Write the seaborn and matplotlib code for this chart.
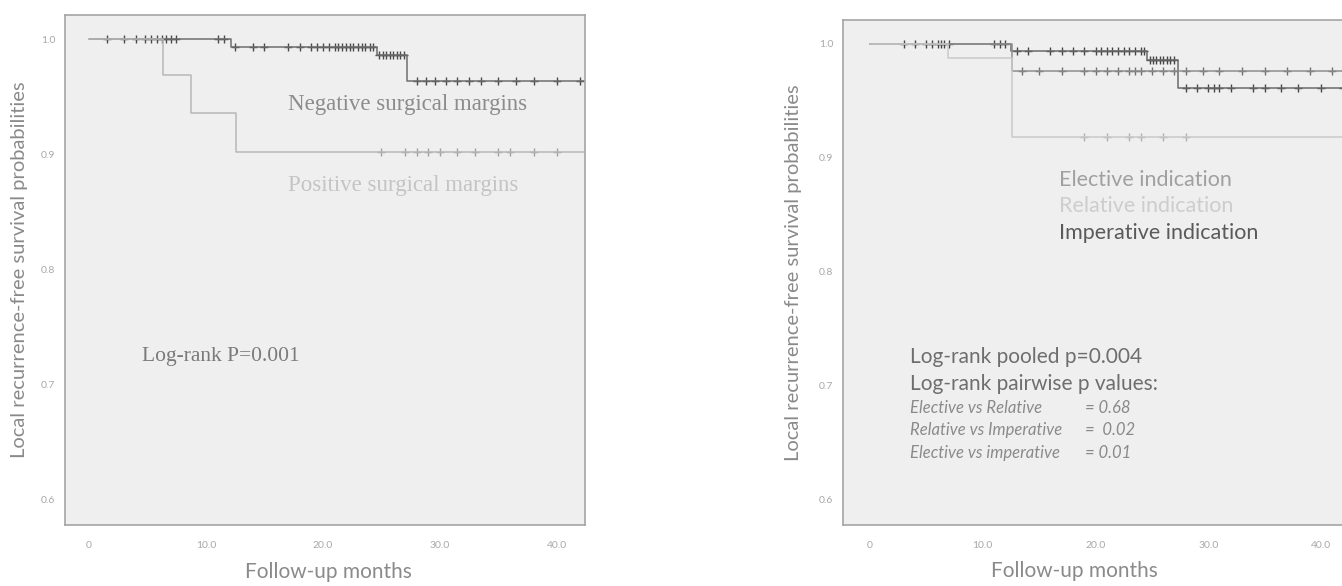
import numpy as np
import pandas as pd
import matplotlib
matplotlib.use('Agg')
import matplotlib.pyplot as plt
import seaborn as sns

# ---- data ----
# left panel: surgical margins
neg_times = [0, 12.1, 24.6, 27.2, 42.3]
neg_surv = [1.0, 0.993, 0.986, 0.964, 0.964]
neg_censor = [1.5, 3, 4, 4.8, 5.3, 5.8, 6.2, 6.6, 7, 7.4, 11, 11.5, 12.5, 14, 15, 17,
              18, 19, 19.5, 20, 20.5, 21, 21.3, 21.6, 22, 22.3, 22.6, 23, 23.3, 23.6,
              24, 24.3, 24.8, 25.1, 25.4, 25.7, 26, 26.3, 26.6, 26.9, 28, 28.8, 29.6,
              30.5, 31.5, 32.5, 33.5, 35, 36.5, 38, 40, 42]
pos_times = [0, 6.3, 8.7, 12.6, 42.3]
pos_surv = [1.0, 0.969, 0.936, 0.902, 0.902]
pos_censor = [25, 27, 28, 29, 30, 31.5, 33, 35, 36, 38, 40]

# right panel: indication
imp_times = [0, 12.5, 24.6, 27.3, 42.4]
imp_surv = [1.0, 0.994, 0.986, 0.961, 0.961]
imp_censor = [3, 4, 5, 5.5, 6, 6.3, 6.6, 7, 11, 11.5, 12, 13, 14, 16, 17, 18, 19, 20,
              20.5, 21, 21.5, 22, 22.5, 23, 23.5, 24, 24.3, 24.8, 25.1, 25.4, 25.7,
              26, 26.3, 26.6, 27, 28, 29, 30, 30.5, 31, 32, 34, 35, 36.5, 38, 40, 42]
ele_times = [0, 12.6, 42.4]
ele_surv = [1.0, 0.976, 0.976]
ele_censor = [13.5, 15, 17, 19, 20, 21, 22, 23, 23.5, 24, 25, 26, 27, 28, 29.5, 31,
              33, 35, 37, 39, 41]
rel_times = [0, 6.9, 12.6, 42.4]
rel_surv = [1.0, 0.988, 0.918, 0.918]
rel_censor = [19, 21, 23, 24, 26, 28]

y_ticks = [0.6, 0.7, 0.8, 0.9, 1.0]
y_ticklabels = ['0.6', '0.7', '0.8', '0.9', '1.0']
x_ticks = [0, 10, 20, 30, 40]
x_ticklabels = ['0', '10.0', '20.0', '30.0', '40.0']

pairwise_names = ['Elective vs Relative', 'Relative vs Imperative', 'Elective vs imperative']
pairwise_p = ['= 0.68', '=  0.02', '= 0.01']

sns.set_theme(style='white')
plt.rcParams['font.family'] = ['Lato', 'DejaVu Sans']

W, H = 1342, 586
fig = plt.figure(figsize=(W / 100, H / 100), dpi=100)
fig.patch.set_facecolor('white')


def px_axes(x0, x1, y0, y1):
    return fig.add_axes([x0 / W, 1 - y1 / H, (x1 - x0) / W, (y1 - y0) / H])


def curve(ax, times, surv, censor, line_col, mark_col, name):
    df = pd.DataFrame({'months': times, 'surv': surv, 'group': name})
    sns.lineplot(data=df, x='months', y='surv', color=line_col, drawstyle='steps-post',
                 estimator=None, sort=False, legend=False, ax=ax, linewidth=1.1)
    t = np.asarray(times)
    s = np.asarray(surv)
    c = np.asarray(censor)
    cs = s[np.searchsorted(t, c, side='right') - 1]
    sns.scatterplot(x=c, y=cs, marker='+', s=28, color=mark_col, linewidth=1.0,
                    legend=False, ax=ax)


def style_axes(ax, xlim):
    ax.set_facecolor('#efefef')
    ax.set_xlim(*xlim)
    ax.set_ylim(0.578, 1.021)
    ax.set_xticks(x_ticks)
    ax.set_xticklabels(x_ticklabels)
    ax.set_yticks(y_ticks)
    ax.set_yticklabels(y_ticklabels)
    ax.tick_params(axis='both', colors='#a0a0a0', labelcolor='#a8a8a8', labelsize=7.5)
    ax.tick_params(axis='x', direction='inout', length=7, width=1, pad=8)
    ax.tick_params(axis='y', direction='out', length=4, width=1, pad=3)
    for sp in ax.spines.values():
        sp.set_color('#a4a4a4')
        sp.set_linewidth(1.2)
    ax.set_xlabel('Follow-up months', fontsize=15, color='#8a8a8a')
    ax.set_ylabel('Local recurrence-free survival probabilities', fontsize=14.5,
                  color='#8a8a8a')


# ---- left panel ----
ax1 = px_axes(65, 585, 15, 525)
curve(ax1, neg_times, neg_surv, neg_censor, '#6e6e6e', '#4a4a4a', 'Negative')
curve(ax1, pos_times, pos_surv, pos_censor, '#b8b8b8', '#a0a0a0', 'Positive')
style_axes(ax1, (-2.05, 42.4))
ax1.xaxis.set_label_coords(0.506, -0.072)
ax1.yaxis.set_label_coords(-0.072, 0.5)

serif = ['Liberation Serif', 'DejaVu Serif']
ax1.text(17.0, 0.943, 'Negative surgical margins', family=serif, fontsize=16.5,
         color='#8c8c8c', ha='left', va='center')
ax1.text(17.0, 0.873, 'Positive surgical margins', family=serif, fontsize=16.5,
         color='#c4c4c4', ha='left', va='center')
ax1.text(4.5, 0.724, 'Log-rank P=0.001', family=serif, fontsize=15.5,
         color='#7a7a7a', ha='left', va='center')

# ---- right panel (cut off at the right edge in the scan) ----
ax2 = px_axes(843, 1348, 20, 525)
curve(ax2, imp_times, imp_surv, imp_censor, '#6a6a6a', '#454545', 'Imperative')
curve(ax2, ele_times, ele_surv, ele_censor, '#8e8e8e', '#707070', 'Elective')
curve(ax2, rel_times, rel_surv, rel_censor, '#cacaca', '#b0b0b0', 'Relative')
style_axes(ax2, (-2.4, 42.4))
ax2.xaxis.set_label_coords(0.458, -0.072)
ax2.yaxis.set_label_coords(-0.082, 0.5)

ax2.text(16.8, 0.881, 'Elective indication', fontsize=15.5, color='#a0a0a0', va='center')
ax2.text(16.8, 0.858, 'Relative indication', fontsize=15.5, color='#cdcdcd', va='center')
ax2.text(16.8, 0.834, 'Imperative indication', fontsize=15.5, color='#5a5a5a', va='center')

ax2.text(3.5, 0.725, 'Log-rank pooled p=0.004', fontsize=15, color='#6e6e6e', va='center')
ax2.text(3.5, 0.702, 'Log-rank pairwise p values:', fontsize=15, color='#6e6e6e',
         va='center')
for i, (nm, pv) in enumerate(zip(pairwise_names, pairwise_p)):
    yy = 0.681 - i * 0.02
    ax2.text(3.5, yy, nm, fontsize=12, style='italic', color='#8a8a8a', va='center')
    ax2.text(19.1, yy, pv, fontsize=12, style='italic', color='#8a8a8a', va='center')

fig.savefig('out.png', dpi=100)
